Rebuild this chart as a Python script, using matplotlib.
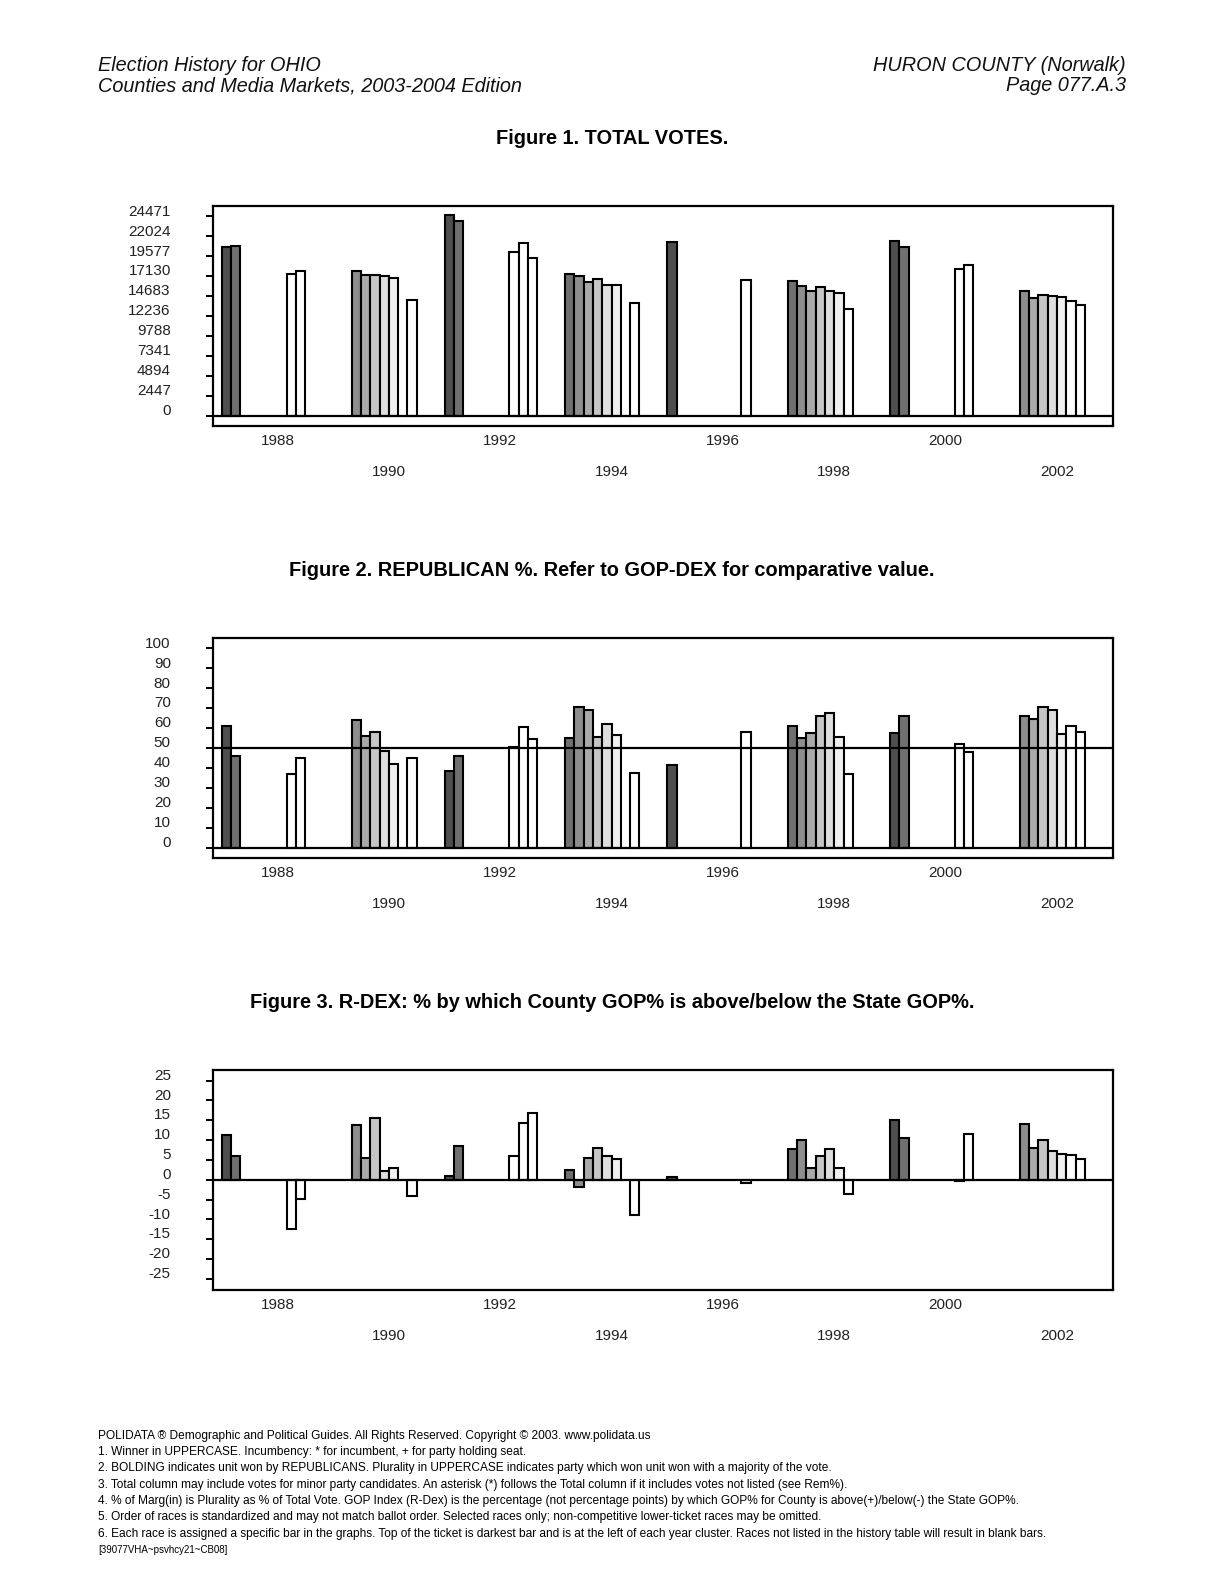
import matplotlib
matplotlib.use("Agg")
import matplotlib.pyplot as plt
from matplotlib.transforms import ScaledTranslation

plt.rcParams['font.family'] = ['Liberation Sans', 'DejaVu Sans']

# election years and the race slot each bar belongs to (0 = top of ticket)
years = [1988, 1990, 1992, 1994, 1996, 1998, 2000, 2002]
race_slots = [
    [0, 1, 7, 8],
    [2, 3, 4, 5, 6, 8],
    [0, 1, 7, 8, 9],
    [1, 2, 3, 4, 5, 6, 8],
    [0, 8],
    [1, 2, 3, 4, 5, 6, 7],
    [0, 1, 7, 8],
    [2, 3, 4, 5, 6, 7, 8],
]

total_votes = [
    [20750, 20870, 17430, 17720],
    [17720, 17310, 17310, 17100, 16860, 14160],
    [24590, 23860, 20050, 21160, 19310],
    [17430, 17190, 16450, 16820, 16080, 16080, 13870],
    [21280, 16700],
    [16490, 15960, 15260, 15840, 15260, 15100, 13050],
    [21480, 20750, 17960, 18540],
    [15260, 14490, 14850, 14730, 14570, 14120, 13630],
]

gop_pct = [
    [61.2, 45.8, 37.1, 44.8],
    [63.9, 56.2, 58.2, 48.7, 42.1, 44.8],
    [38.6, 46.2, 50.7, 60.7, 54.8],
    [55.2, 70.7, 68.9, 55.7, 62.2, 56.7, 37.6],
    [41.6, 58.2],
    [61.2, 55.0, 57.5, 66.1, 67.7, 55.5, 37.1],
    [57.7, 66.2, 52.2, 48.2],
    [66.2, 64.4, 70.6, 69.2, 57.2, 61.2, 58.2],
]

rdex = [
    [11.3, 6.0, -12.4, -4.8],
    [13.8, 5.5, 15.6, 2.2, 2.9, -4.2],
    [0.9, 8.5, 6.0, 14.4, 16.9],
    [2.5, -1.9, 5.5, 8.0, 6.0, 5.1, -8.8],
    [0.7, -0.9],
    [7.7, 10.0, 2.9, 6.0, 7.7, 2.9, -3.7],
    [15.1, 10.5, -0.4, 11.5],
    [14.1, 8.0, 10.0, 7.3, 6.5, 6.2, 5.2],
]

slot_colors = ['#4f4f4f', '#707070', '#8e8e8e', '#aaaaaa', '#c6c6c6',
               '#dedede', '#f0f0f0', 'white', 'white', 'white']

votes_ticks = [0, 2447, 4894, 7341, 9788, 12236, 14683, 17130, 19577, 22024, 24471]
pct_ticks = [0, 10, 20, 30, 40, 50, 60, 70, 80, 90, 100]
rdex_ticks = [-25, -20, -15, -10, -5, 0, 5, 10, 15, 20, 25]

W, H = 1224, 1583
fig = plt.figure(figsize=(W / 100, H / 100), dpi=100)

GROUP = 12


def px(x, y):
    return x / W, 1 - y / H


def draw_panel(top_px, values, ticks, ylim, ref_line=None):
    ax = fig.add_axes([212.5 / W, 1 - (top_px + 220) / H, 900.2 / W, 220 / H])
    for g, (slots, vals) in enumerate(zip(race_slots, values)):
        for s, v in zip(slots, vals):
            ax.bar(1 + GROUP * g + s, v, width=1, align='edge',
                   color=slot_colors[s], edgecolor='black', linewidth=1.5, zorder=2)
    ax.axhline(0, color='black', lw=1.6, zorder=3)
    if ref_line is not None:
        ax.axhline(ref_line, color='black', lw=1.6, zorder=3)
    ax.set_xlim(0, 97)
    ax.set_ylim(*ylim)
    for sp in ax.spines.values():
        sp.set_linewidth(1.6)
    ax.set_yticks(ticks)
    ax.set_yticklabels([str(t) for t in ticks], fontsize=11, color='#222222')
    ax.tick_params(axis='y', direction='out', length=5, width=1.4, pad=25)
    off = ScaledTranslation(0, 0.063, fig.dpi_scale_trans)
    for lab in ax.get_yticklabels():
        lab.set_transform(lab.get_transform() + off)
    centers = [1 + GROUP * g + GROUP / 2 for g in range(len(years))]
    ax.set_xticks(centers[0::2])
    ax.set_xticklabels([str(y) for y in years[0::2]], fontsize=11, color='#222222')
    ax.set_xticks(centers[1::2], minor=True)
    ax.set_xticklabels([str(y) for y in years[1::2]], minor=True, fontsize=11, color='#222222')
    ax.tick_params(axis='x', which='major', length=0, pad=6)
    ax.tick_params(axis='x', which='minor', length=0, pad=28)
    return ax


draw_panel(205.7, total_votes, votes_ticks, (-0.5 * 2447.1, 10.54 * 2447.1))
draw_panel(637.7, gop_pct, pct_ticks, (-5.0, 105.4), ref_line=50)
draw_panel(1069.7, rdex, rdex_ticks, (-27.75, 27.75))

narrow = ['Liberation Sans Narrow', 'Liberation Sans', 'DejaVu Sans']
hdr = dict(fontsize=14.3, style='italic', family=narrow, va='center', color='#111111')
fig.text(*px(98, 65.5), "Election History for OHIO", ha='left', **hdr)
fig.text(*px(98, 85.5), "Counties and Media Markets, 2003-2004 Edition", ha='left', **hdr)
fig.text(*px(1126, 65.5), "HURON COUNTY (Norwalk)", ha='right', **hdr)
fig.text(*px(1126, 85.5), "Page 077.A.3", ha='right', **hdr)

ttl = dict(fontsize=14.4, weight='bold', ha='center', va='center')
fig.text(*px(612, 138.5), "Figure 1. TOTAL VOTES.", **ttl)
fig.text(*px(612, 570.5), "Figure 2. REPUBLICAN %. Refer to GOP-DEX for comparative value.", **ttl)
fig.text(*px(612, 1002.5), "Figure 3. R-DEX: % by which County GOP% is above/below the State GOP%.", **ttl)

footer = [
    "POLIDATA \u00ae Demographic and Political Guides. All Rights Reserved. Copyright \u00a9 2003. www.polidata.us",
    "1. Winner in UPPERCASE. Incumbency: * for incumbent, + for party holding seat.",
    "2. BOLDING indicates unit won by REPUBLICANS. Plurality in UPPERCASE indicates party which won unit won with a majority of the vote.",
    "3. Total column may include votes for minor party candidates. An asterisk (*) follows the Total column if it includes votes not listed (see Rem%).",
    "4. % of Marg(in) is Plurality as % of Total Vote. GOP Index (R-Dex) is the percentage (not percentage points) by which GOP% for County is above(+)/below(-) the State GOP%.",
    "5. Order of races is standardized and may not match ballot order. Selected races only; non-competitive lower-ticket races may be omitted.",
    "6. Each race is assigned a specific bar in the graphs. Top of the ticket is darkest bar and is at the left of each year cluster. Races not listed in the history table will result in blank bars.",
]
for i, line in enumerate(footer):
    fig.text(*px(98, 1435.8 + i * 16.3), line, fontsize=8.6, family=narrow, ha='left', va='center')
fig.text(*px(98, 1550), "[39077VHA~psvhcy21~CB08]", fontsize=7, family=narrow, ha='left', va='center')

fig.savefig("out.png", dpi=100)
